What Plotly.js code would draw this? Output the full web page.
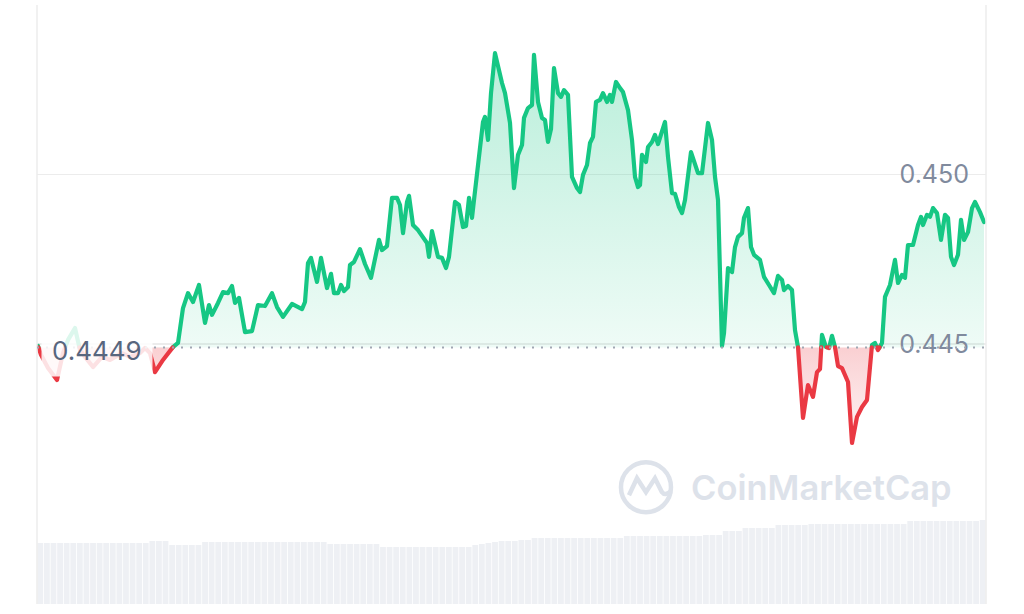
<!DOCTYPE html>
<html><head><meta charset="utf-8">
<script src="https://cdn.plot.ly/plotly-3.0.1.min.js"></script>
<style>
html,body{margin:0;padding:0;background:#fff;}
#chart{width:1024px;height:614px;}
.scatterlayer path.js-line{stroke-linejoin:round;stroke-linecap:round;}
</style>
</head><body><div id="chart"></div>
<script>
// time steps (~1.5 min each) across the 24h window
const t = [0,3,10,19,25,30,37,42,47,55,64,72,84,92,102,107,112,117,125,135,
140,145,150,155,161,167,171,174,180,185,190,194,197,201,207,214,220,227,234,239,
245,254,264,267,270,273,279,283,289,293,296,300,303,306,310,312,316,322,327,333,
341,344,349,354,359,362,365,369,371,375,380,385,389,391,394,400,404,408,411,417,
421,425,428,431,434,436,441,445,447,450,453,457,464,467,472,476,480,484,486,490,
494,496,500,504,507,510,513,516,520,523,526,530,534,539,542,545,549,552,555,558,
562,565,569,572,574,578,582,585,590,594,597,600,602,604,608,610,614,617,620,624,
627,630,634,637,641,644,647,653,657,660,664,670,674,677,680,684,686,690,694,697,
700,704,706,710,713,716,722,726,731,736,740,744,746,750,754,757,760,765,770,775,
779,782,784,788,791,794,797,800,804,810,814,819,824,829,834,837,840,844,847,852,
857,860,864,867,870,875,880,883,885,889,892,895,899,903,907,910,913,916,920,923,
926,930,934,937,942,946];

const price = [0.44494,0.44468,0.44429,0.44394,0.44473,0.44512,0.44547,0.44482,0.44462,0.44432,
0.44462,0.44453,0.44473,0.44462,0.44473,0.44488,0.44473,0.44417,0.44453,0.44491,
0.44503,0.44606,0.44650,0.44624,0.44674,0.44562,0.44615,0.44586,0.44621,0.44653,
0.44650,0.44671,0.44621,0.44636,0.44535,0.44538,0.44615,0.44612,0.44650,0.44609,
0.44580,0.44618,0.44603,0.44624,0.44739,0.44754,0.44683,0.44754,0.44665,0.44707,
0.44650,0.44650,0.44674,0.44656,0.44668,0.44733,0.44742,0.44780,0.44736,0.44695,
0.44807,0.44777,0.44789,0.44931,0.44931,0.44910,0.44827,0.44919,0.44937,0.44851,
0.44836,0.44813,0.44798,0.44757,0.44833,0.44757,0.44754,0.44724,0.44757,0.44919,
0.44910,0.44845,0.44848,0.44931,0.44872,0.44925,0.45049,0.45155,0.45170,0.45102,
0.45240,0.45358,0.45270,0.45240,0.45152,0.44960,0.45058,0.45087,0.45167,0.45196,
0.45205,0.45353,0.45214,0.45167,0.45161,0.45096,0.45134,0.45314,0.45240,0.45229,
0.45249,0.45235,0.44993,0.44960,0.44948,0.44999,0.45028,0.45093,0.45111,0.45214,
0.45220,0.45240,0.45214,0.45235,0.45214,0.45273,0.45255,0.45243,0.45190,0.45102,
0.44993,0.44963,0.44969,0.45058,0.45037,0.45081,0.45096,0.45117,0.45090,0.45125,
0.45155,0.45052,0.44945,0.44943,0.44904,0.44886,0.44925,0.45066,0.45028,0.45004,
0.45004,0.45152,0.45102,0.44993,0.44925,0.44494,0.44532,0.44724,0.44712,0.44786,
0.44816,0.44827,0.44872,0.44901,0.44786,0.44763,0.44748,0.44698,0.44674,0.44650,
0.44701,0.44689,0.44659,0.44671,0.44659,0.44541,0.44491,0.44282,0.44379,0.44344,
0.44417,0.44426,0.44527,0.44491,0.44488,0.44524,0.44491,0.44435,0.44429,0.44388,
0.44208,0.44285,0.44314,0.44335,0.44497,0.44503,0.44482,0.44503,0.44639,0.44674,
0.44748,0.44680,0.44704,0.44695,0.44792,0.44792,0.44851,0.44875,0.44851,0.44881,
0.44875,0.44901,0.44886,0.44807,0.44881,0.44872,0.44757,0.44733,0.44763,0.44866,
0.44807,0.44830,0.44901,0.44919,0.44889,0.44860];

const openPrice = 0.4449;
const openLabel = '0.4449';

// rolling 24h volume (relative units), one per bar
const volume = [61,61,61,61,61,61,61,61,61,61,61,61,61,61,61,61,61,
63,63,63,
59,59,59,59,59,
62,62,62,62,62,62,62,62,62,62,62,62,62,62,62,62,62,62,62,
60,60,60,60,60,60,60,60,
57,57,57,57,57,57,57,57,57,57,57,57,57,57,
59,60,61,62,63,63,63,64,64,
66,66,66,66,66,66,66,66,66,66,66,66,66,66,
68,68,68,68,68,68,68,68,68,68,68,68,
69,69,69,
73,73,73,
76,76,76,76,76,
79,79,79,79,79,
80,80,80,80,80,80,80,80,80,80,80,80,80,80,80,
83,83,83,83,83,83,83,83,83,83,83,
84];

const yTickVals = [0.440, 0.445, 0.450, 0.455];
const yTickText = ['', '0.445', '0.450', ''];

const GREEN = '#16c784', RED = '#ea3943';

// insert baseline crossings so the colour switches exactly at the open price
const at = [], av = [];
for (let i = 0; i < t.length; i++) {
  if (i > 0) {
    const a = price[i-1] - openPrice, b = price[i] - openPrice;
    if (a * b < 0) {
      const f = a / (a - b);
      at.push(t[i-1] + f * (t[i] - t[i-1]));
      av.push(openPrice);
    }
  }
  at.push(t[i]); av.push(price[i]);
}
const baseArr = at.map(() => openPrice);

const traces = [
  {x: at, y: baseArr, mode: 'lines', line: {width: 0}, hoverinfo: 'skip'},
  {x: at, y: av.map(v => Math.max(v, openPrice)), mode: 'lines', line: {width: 0}, fill: 'tonexty',
   fillgradient: {type: 'vertical', colorscale: [[0, 'rgba(22,199,132,0.07)'], [1, 'rgba(22,199,132,0.30)']]},
   hoverinfo: 'skip'},
  {x: at, y: baseArr, mode: 'lines', line: {width: 0}, hoverinfo: 'skip'},
  {x: at, y: av.map(v => Math.min(v, openPrice)), mode: 'lines', line: {width: 0}, fill: 'tonexty',
   fillgradient: {type: 'vertical', colorscale: [[0, 'rgba(234,57,67,0.05)'], [1, 'rgba(234,57,67,0.24)']]},
   hoverinfo: 'skip'},
  {x: at, y: av.map(v => v >= openPrice ? v : null), mode: 'lines', connectgaps: false,
   line: {color: GREEN, width: 4.2}},
  {x: at, y: av.map(v => v <= openPrice ? v : null), mode: 'lines', connectgaps: false,
   line: {color: RED, width: 4.2}},
  {type: 'bar', x: volume.map((v, i) => i), y: volume, xaxis: 'x2', yaxis: 'y2',
   marker: {color: '#eef0f4', line: {width: 0}}, hoverinfo: 'skip'}
];

const layout = {
  width: 1024, height: 614,
  margin: {l: 37, r: 38, t: 5, b: 10},
  paper_bgcolor: '#ffffff', plot_bgcolor: '#ffffff',
  showlegend: false, bargap: 0.12,
  font: {family: 'Inter, "Noto Sans", sans-serif'},
  xaxis: {range: [-1, 948], visible: false, fixedrange: true},
  xaxis2: {range: [-0.5, 143.5], visible: false, anchor: 'y2', overlaying: 'x'},
  yaxis: {domain: [0.1511, 1], range: [0.440, 0.455], side: 'right',
    tickvals: yTickVals, ticktext: yTickText, ticklabelposition: 'inside', ticks: '',
    ticklabelstandoff: 14,
    showgrid: true, gridcolor: '#ececec', gridwidth: 1.5, zeroline: false, showline: false,
    tickfont: {family: 'Inter', size: 25, color: '#808a9d'}},
  yaxis2: {domain: [0, 0.1503], range: [0, 90], visible: false, anchor: 'x2'},
  shapes: [
    {type: 'line', xref: 'paper', yref: 'paper', x0: 0, x1: 0, y0: 0, y1: 1, line: {color: '#ececec', width: 1.5}},
    {type: 'line', xref: 'paper', yref: 'paper', x0: 1, x1: 1, y0: 0, y1: 1, line: {color: '#ececec', width: 1.5}},
    {type: 'line', xref: 'paper', yref: 'y', x0: 0, x1: 1, y0: openPrice, y1: openPrice,
     line: {color: '#a1a7b3', width: 2, dash: '2px,7px'}},
    {type: 'circle', xref: 'paper', yref: 'paper', xsizemode: 'pixel', ysizemode: 'pixel',
     xanchor: 0.6417, yanchor: 0.195, x0: -25, x1: 25, y0: -25, y1: 25,
     line: {color: '#dde2ea', width: 4.5}, layer: 'below'},
    {type: 'path', xref: 'paper', yref: 'paper', xsizemode: 'pixel', ysizemode: 'pixel',
     xanchor: 0.6417, yanchor: 0.195,
     path: 'M-17,-8 L-9,9 L0,-5 L9,9 L16,-5 Q19,-9 25,-4',
     line: {color: '#dde2ea', width: 4.5}, layer: 'below'}
  ],
  annotations: [
    {xref: 'paper', yref: 'y', x: 0.004, y: openPrice, xanchor: 'left', yanchor: 'middle', yshift: -3,
     text: openLabel, showarrow: false, bgcolor: 'rgba(255,255,255,0.85)', borderpad: 10,
     font: {family: 'Inter', size: 26, color: '#58667e'}},
    {xref: 'paper', yref: 'paper', x: 0.6875, y: 0.195, xanchor: 'left', yanchor: 'middle',
     text: 'CoinMarketCap', showarrow: false,
     font: {family: 'Inter', size: 34.5, weight: 600, color: '#dde2ea'}}
  ]
};

Plotly.newPlot('chart', traces, layout, {staticPlot: true, displayModeBar: false});
</script>
</body></html>
